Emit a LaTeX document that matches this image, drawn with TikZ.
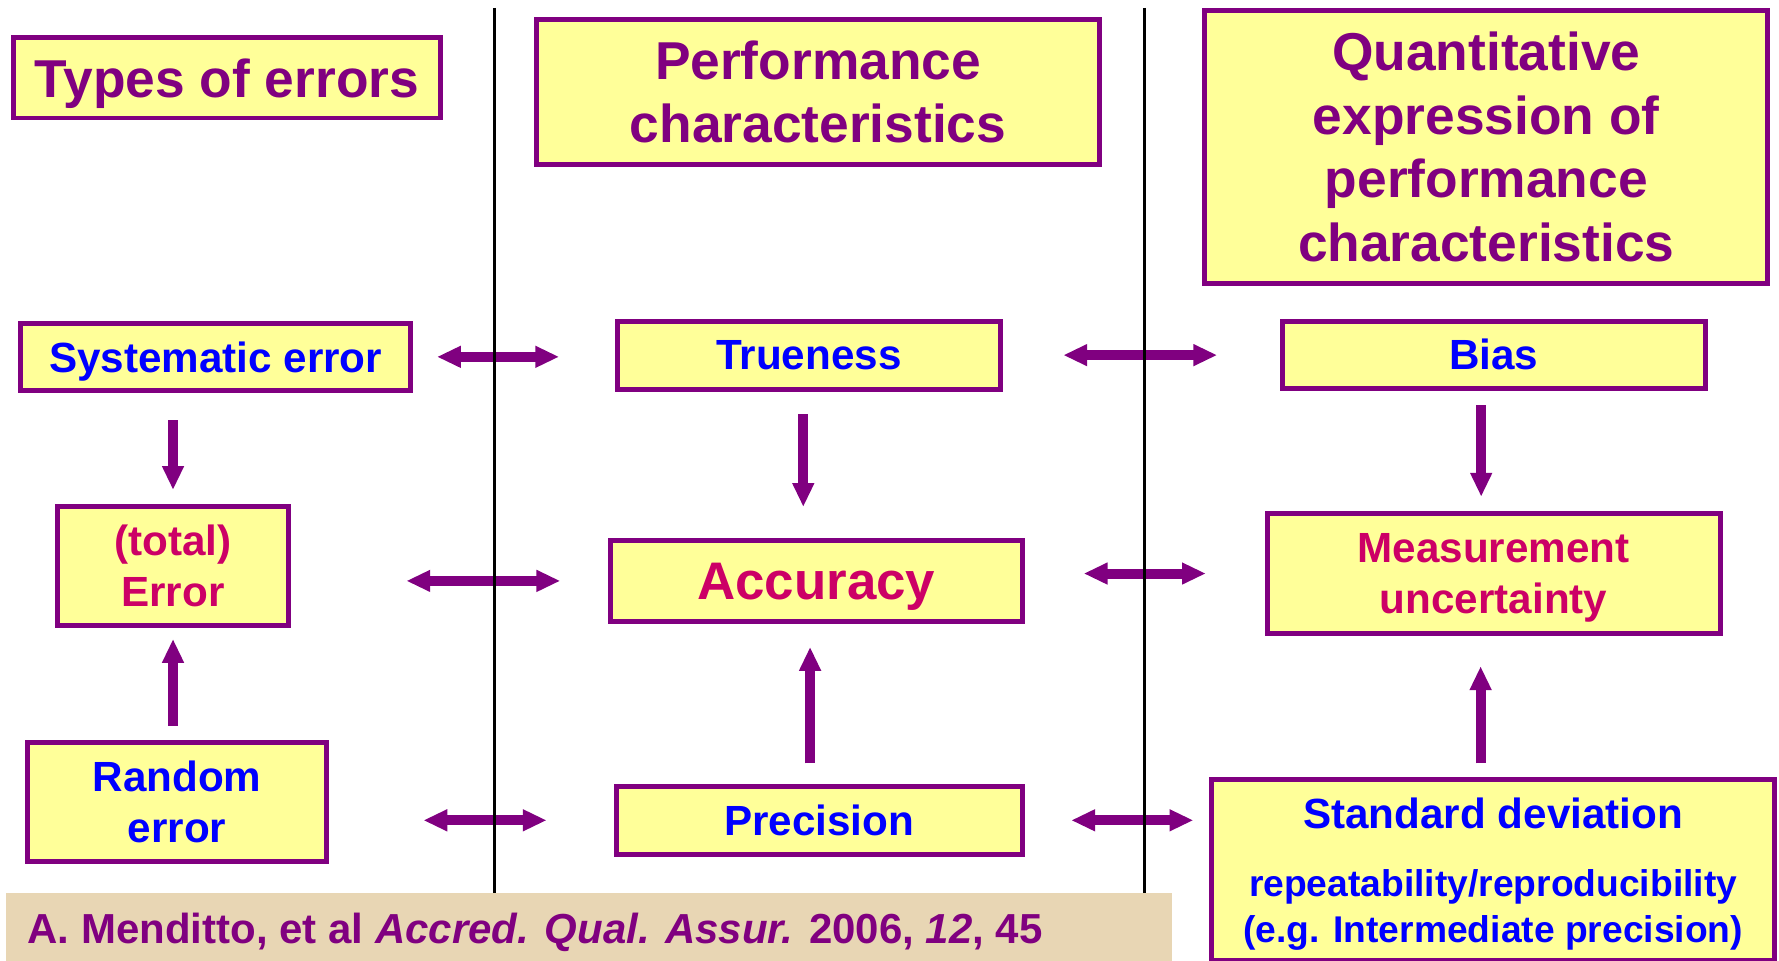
\documentclass[tikz,border=0pt]{standalone}
\usepackage{fontspec}
\setmainfont{Liberation Sans}
\usetikzlibrary{arrows.meta}

\definecolor{boxline}{RGB}{128,0,128}
\definecolor{boxfill}{RGB}{255,255,153}
\definecolor{labblue}{RGB}{0,0,255}
\definecolor{labred}{RGB}{204,0,102}
\definecolor{bandtan}{RGB}{232,214,180}

\tikzset{
  box/.style={draw=boxline, fill=boxfill, line width=2.2pt, inner sep=1pt, align=center},
  headbox/.style={box, text=boxline, font=\bfseries\fontsize{23.5}{28}\selectfont},
  bluebox/.style={box, text=labblue, font=\bfseries\fontsize{18.6}{22.6}\selectfont},
  redbox/.style={box, text=labred, font=\bfseries\fontsize{18.6}{22.6}\selectfont},
  link/.style={boxline, line width=4.4pt, -{Triangle[length=10.5pt,width=9pt]}},
  both/.style={boxline, line width=4.4pt, {Triangle[length=10.5pt,width=9pt]}-{Triangle[length=10.5pt,width=9pt]}},
  divider/.style={black, line width=1.3pt}
}

\begin{document}
\begin{tikzpicture}[x=0.5pt, y=-0.5pt]
    \useasboundingbox (0,0) rectangle (1568,847);

    % Column headers
    \node[headbox, text depth=0pt, minimum width=188pt, minimum height=35.5pt] (types) at (200,68.5) {Types of errors};
    \node[headbox, minimum width=248pt, minimum height=64pt] (perf) at (721,81) {Performance\\characteristics};
    \node[headbox, minimum width=248pt, minimum height=120.5pt] (quant) at (1310,129.5) {Quantitative\\expression of\\performance\\characteristics};

    % Top row
    \node[bluebox, text depth=0pt, minimum width=172pt, minimum height=29.5pt] (sys) at (190,314.5) {Systematic error};
    \node[bluebox, minimum width=169pt, minimum height=30pt] (true) at (713,313) {Trueness};
    \node[bluebox, minimum width=186.5pt, minimum height=29.5pt] (bias) at (1316.5,312.5) {Bias};

    % Middle row
    \node[redbox, minimum width=101.5pt, minimum height=52.5pt] (err) at (152.5,498.5) {(total)\\Error};
    \node[redbox, text depth=0pt, font=\bfseries\fontsize{23.3}{28}\selectfont, minimum width=181.5pt, minimum height=36pt] (acc) at (719.5,512) {Accuracy};
    \node[redbox, text depth=0pt, minimum width=199.5pt, minimum height=52.5pt] (meas) at (1316.5,505.5) {Measurement\\uncertainty};

    % Bottom row
    \node[bluebox, minimum width=132pt, minimum height=52.5pt] (rand) at (156,706.5) {Random\\error};
    \node[bluebox, minimum width=179pt, minimum height=30pt] (prec) at (722,723) {Precision};
    \node[bluebox, text depth=0pt, font=\bfseries\fontsize{16.4}{20}\selectfont, minimum width=248pt, minimum height=80pt] (std) at (1316,767)
        {{\fontsize{18.6}{22.6}\selectfont Standard deviation}\\[10pt]repeatability/reproducibility\\(e.g. Intermediate precision)};

    % Reference band
    \node[fill=bandtan, minimum width=514pt, minimum height=31pt, inner sep=0pt, anchor=north west] (band) at (5,787) {};
    \node[text=boxline, font=\bfseries\fontsize{18.5}{22}\selectfont, inner sep=0pt, anchor=base west] (cite) at (24,832)
        {A. Menditto, et al \textit{Accred. Qual. Assur.} 2006, \textit{12}, 45};

    % Vertical arrows
    \draw[link, shorten <=12pt, shorten >=6pt] (sys.south -| err.north) -- (err.north);
    \draw[link, shorten <=6pt, shorten >=5pt] (rand.north -| err.south) -- (err.south);
    \draw[link, shorten <=10pt, shorten >=13.5pt] ([xshift=-2.5pt]true.south) -- ([xshift=-2.5pt]true.south |- acc.north);
    \draw[link, shorten <=9pt, shorten >=10pt] ([xshift=-4pt]prec.north) -- ([xshift=-4pt]prec.north |- acc.south);
    \draw[link, shorten <=6.5pt, shorten >=6.5pt] ([xshift=-5.5pt]bias.south) -- ([xshift=-5.5pt]meas.north);
    \draw[link, shorten <=6pt, shorten >=13.5pt] ([xshift=-5.5pt]std.north) -- ([xshift=-5.5pt]std.north |- meas.south);

    % Horizontal double arrows
    \draw[both, shorten <=10.5pt, shorten >=24.5pt] (sys.east) -- (sys.east -| true.west);
    \draw[both, shorten <=26.5pt, shorten >=27.5pt] (true.east) -- (true.east -| bias.west);
    \draw[both, shorten <=51pt, shorten >=21pt] (err.east |- acc.west) -- (acc.west);
    \draw[both, shorten <=26pt, shorten >=26pt] (acc.east |- meas.west) -- (meas.west);
    \draw[both, shorten <=41.5pt, shorten >=29.5pt] (rand.east |- prec.west) -- (prec.west);
    \draw[both, shorten <=20.5pt, shorten >=7pt] (prec.east) -- (prec.east -| std.west);

    % Column dividers
    \draw[divider] (436,7) -- (436,787);
    \draw[divider] (1009,7) -- (1009,787);
\end{tikzpicture}
\end{document}
